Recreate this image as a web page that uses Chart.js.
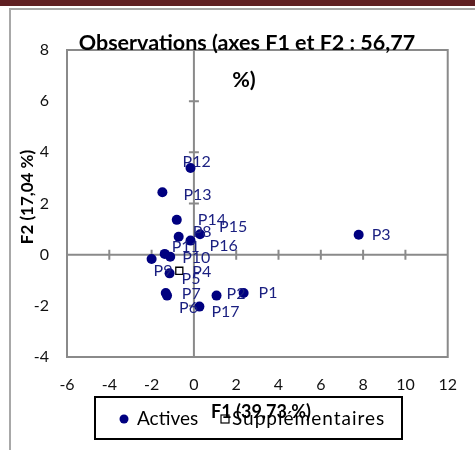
<!DOCTYPE html>
<html>
<head>
<meta charset="utf-8">
<script src="https://cdn.jsdelivr.net/npm/chart.js@4"></script>
<style>
    html, body { margin: 0; padding: 0; background: #fff; overflow: hidden; }
    #wrap { position: relative; width: 475px; height: 450px; }
    #band { position: absolute; left: 0; top: 0; width: 475px; height: 6px; background: #5f1f22; }
    #frame { position: absolute; left: 9px; top: 8px; width: 480px; height: 460px;
             border-left: 2px solid #a8a8a8; border-top: 2px solid #a8a8a8; }
    canvas { position: absolute; left: 0; top: 0; }
</style>
</head>
<body>
<div id="wrap">
    <div id="band"></div>
    <div id="frame"></div>
    <canvas id="obsChart" width="475" height="450"></canvas>
</div>
<script>
// Observations actives / supplémentaires (F1 x F2)
const activeLabels = ["P1", "P2", "P3", "P5", "P6", "P7", "P8", "P9", "P10", "P11", "P12", "P13", "P14", "P15", "P16", "P17"];
const activeF1 = [2.35, 1.07, 7.79, -1.15, -1.27, -1.33, -0.72, -2.0, -1.12, -1.38, -0.16, -1.49, -0.81, 0.29, -0.16, 0.26];
const activeF2 = [-1.5, -1.6, 0.78, -0.73, -1.6, -1.5, 0.7, -0.17, -0.08, 0.03, 3.39, 2.44, 1.36, 0.8, 0.55, -2.03];

const suppLabels = ["P4"];
const suppF1 = [-0.69];
const suppF2 = [-0.63];

const xMin = -6, xMax = 12, yMin = -4, yMax = 8, tickStep = 2;

const titleLines = ["Observations (axes F1 et F2 : 56,77", "%)"];
const xTitle = "F1 (39,73 %)";
const yTitle = "F2 (17,04 %)";
const legendNames = ["Actives", "Supplémentaires"];

const FONT = "Lato, 'Open Sans', sans-serif";
const NAVY = "#000080";
const LABEL_COLOR = "#1a1f80";
const AXIS_GREY = "#8a8a8a";

// décalages des étiquettes (px) : [dx depuis le point jusqu'au bord gauche, dy]
const labelShift = {
    P1: [15, 0], P2: [10, -2], P3: [13, 0], P4: [13, 1], P5: [12, 6],
    P6: [12, 12], P7: [16, 1], P8: [14, -5], P9: [2, 12], P10: [12, 1],
    P11: [7, -7], P12: [-8, -6], P13: [21, 3], P14: [21, 0], P15: [19, -7],
    P16: [19, 5], P17: [12, 5],
};

const toPoints = (xs, ys, names) =>
    xs.map((x, i) => ({ x: x, y: ys[i], name: names[i] }));

const decorPlugin = {
    id: "decor",
    beforeDatasetsDraw(chart) {
        const { ctx, chartArea: a, scales } = chart;
        const x0 = scales.x.getPixelForValue(0);
        const y0 = scales.y.getPixelForValue(0);
        ctx.save();
        ctx.strokeStyle = AXIS_GREY;
        ctx.lineWidth = 2;
        ctx.strokeRect(a.left, a.top, a.right - a.left, a.bottom - a.top);
        ctx.beginPath();
        ctx.moveTo(x0, a.top);
        ctx.lineTo(x0, a.bottom);
        ctx.moveTo(a.left, y0);
        ctx.lineTo(a.right, y0);
        // petites croix sur les axes
        scales.x.ticks.forEach((t) => {
            if (t.value === 0 || t.value === xMin || t.value === xMax) return;
            const px = scales.x.getPixelForValue(t.value);
            ctx.moveTo(px, y0 - 5);
            ctx.lineTo(px, y0 + 5);
        });
        scales.y.ticks.forEach((t) => {
            if (t.value === 0 || t.value === yMin || t.value === yMax) return;
            const py = scales.y.getPixelForValue(t.value);
            ctx.moveTo(x0 - 5, py);
            ctx.lineTo(x0 + 5, py);
        });
        ctx.stroke();
        ctx.restore();
    },
    afterDatasetsDraw(chart) {
        const { ctx } = chart;
        ctx.save();
        ctx.font = "16px " + FONT;
        ctx.fillStyle = LABEL_COLOR;
        ctx.textBaseline = "middle";
        ctx.textAlign = "left";
        chart.data.datasets.forEach((ds, di) => {
            chart.getDatasetMeta(di).data.forEach((el, i) => {
                const name = ds.data[i].name;
                const s = labelShift[name] || [13, 0];
                ctx.fillText(name, el.x + s[0], el.y + s[1]);
            });
        });
        ctx.restore();
    },
    afterDraw(chart) {
        const { ctx } = chart;
        ctx.save();
        ctx.fillStyle = "#000";
        ctx.textBaseline = "middle";
        ctx.textAlign = "center";

        // titre
        ctx.font = "bold 21.5px " + FONT;
        ctx.fillText(titleLines[0], 247, 43);
        ctx.fillText(titleLines[1], 244, 80);

        // titre axe vertical
        ctx.save();
        ctx.translate(28, 197);
        ctx.rotate(-Math.PI / 2);
        ctx.font = "bold 17px " + FONT;
        ctx.fillText(yTitle, 0, 0);
        ctx.restore();

        // légende
        ctx.fillStyle = "#fff";
        ctx.fillRect(95, 397, 307, 42);
        ctx.strokeStyle = "#000";
        ctx.lineWidth = 2;
        ctx.strokeRect(95, 397, 307, 42);

        ctx.fillStyle = NAVY;
        ctx.beginPath();
        ctx.arc(124, 419, 4.5, 0, Math.PI * 2);
        ctx.fill();

        ctx.fillStyle = "#fff";
        ctx.fillRect(221, 415, 8, 8);
        ctx.lineWidth = 1.2;
        ctx.strokeRect(221, 415, 8, 8);

        ctx.fillStyle = "#000";
        ctx.textAlign = "left";
        ctx.font = "19px " + FONT;
        ctx.fillText(legendNames[0], 137, 419);
        ctx.letterSpacing = "1px";
        ctx.fillText(legendNames[1], 232, 419);
        ctx.letterSpacing = "0px";

        // titre axe horizontal (par-dessus la légende)
        ctx.textAlign = "center";
        ctx.font = "bold 18px " + FONT;
        ctx.fillText(xTitle, 261, 412);
        ctx.restore();
    },
};

document.addEventListener("DOMContentLoaded", function () {
    const ctx = document.getElementById("obsChart");

    new Chart(ctx, {
        type: "scatter",
        data: {
            datasets: [
                {
                    label: legendNames[0],
                    data: toPoints(activeF1, activeF2, activeLabels),
                    pointStyle: "circle",
                    pointRadius: 5,
                    backgroundColor: NAVY,
                    borderColor: NAVY,
                    borderWidth: 0,
                },
                {
                    label: legendNames[1],
                    data: toPoints(suppF1, suppF2, suppLabels),
                    pointStyle: "rect",
                    pointRadius: 5,
                    backgroundColor: "#fff",
                    borderColor: "#000",
                    borderWidth: 1.3,
                },
            ],
        },
        options: {
            responsive: false,
            animation: false,
            layout: { padding: { left: 0, top: 50, right: 18, bottom: 0 } },
            plugins: {
                legend: { display: false },
                title: { display: false },
                tooltip: { enabled: false },
            },
            scales: {
                x: {
                    type: "linear",
                    min: xMin,
                    max: xMax,
                    grid: { display: false, drawTicks: false },
                    border: { display: false },
                    ticks: {
                        stepSize: tickStep,
                        padding: 18,
                        color: "#111",
                        font: { family: FONT, size: 16 },
                    },
                    afterFit: (scale) => { scale.height = 93; },
                },
                y: {
                    type: "linear",
                    min: yMin,
                    max: yMax,
                    grid: { display: false, drawTicks: false },
                    border: { display: false },
                    ticks: {
                        stepSize: tickStep,
                        padding: 18,
                        color: "#111",
                        font: { family: FONT, size: 16 },
                    },
                    afterFit: (scale) => { scale.width = 67; },
                },
            },
        },
        plugins: [decorPlugin],
    });
});
</script>
</body>
</html>
